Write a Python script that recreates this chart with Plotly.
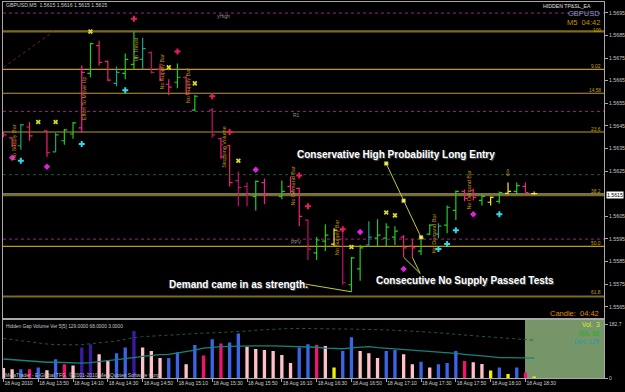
import plotly.graph_objects as go

W, H = 625, 392
def px(x): return x / W
def py(y): return 1 - y / H

# ---------------- data ----------------
bar_idx = list(range(62))
tick_idx = [0, 4, 8, 12, 16, 20, 24, 28, 32, 36, 40, 44, 48, 52, 56, 60]
tick_text = ["18 Aug 2010", "18 Aug 13:50", "18 Aug 14:10", "18 Aug 14:30", "18 Aug 14:50",
             "18 Aug 15:10", "18 Aug 15:30", "18 Aug 15:50", "18 Aug 16:10", "18 Aug 16:30",
             "18 Aug 16:50", "18 Aug 17:10", "18 Aug 17:30", "18 Aug 17:50", "18 Aug 18:10",
             "18 Aug 18:30"]

highs = [1.56423,1.56397,1.56458,1.56467,None,1.56428,1.56419,1.56436,1.56467,1.56717,
         1.56818,1.56827,1.56739,1.56713,1.56770,1.56867,1.56840,1.56779,1.56726,1.56656,
         1.56726,1.56669,1.56586,None,1.56529,1.56397,1.56366,1.56248,1.56199,1.56208,
         1.56217,None,1.56208,1.56226,1.56177,1.56037,1.55958,1.56015,1.55997,1.55997,
         1.55870,1.55923,1.56028,1.56037,1.56019,1.56006,1.55967,1.55949,1.55962,1.56015,
         1.56019,1.56098,1.56164,1.56169,1.56173,1.56147,1.56138,1.56160,1.56199,1.56199,
         1.56199,1.56160]
lows = [1.56401,1.56357,1.56344,1.56384,None,1.56313,1.56335,1.56366,1.56393,1.56419,
        1.56665,1.56717,1.56647,1.56625,1.56656,1.56700,1.56700,1.56682,1.56647,1.56586,
        1.56616,1.56586,1.56515,None,1.56397,1.56305,1.56182,1.56094,1.56094,1.56076,
        1.56103,None,1.56125,1.56151,1.56006,1.55857,1.55857,1.55896,1.55918,1.55747,
        1.55716,1.55765,1.55914,1.55914,1.55914,1.55923,1.55870,1.55870,1.55879,1.55967,
        1.55953,1.55975,1.56033,1.56116,1.56120,1.56098,1.56098,1.56107,1.56147,1.56147,
        1.56155,1.56145]
opens = [1.56419,1.56397,1.56362,1.56445,None,1.56428,1.56335,1.56384,1.56414,1.56441,
         1.56682,1.56805,1.56735,1.56638,1.56682,1.56722,1.56744,1.56774,1.56700,1.56634,
         1.56643,1.56665,1.56520,None,1.56520,1.56393,1.56362,1.56208,1.56182,1.56138,
         1.56199,None,1.56138,1.56182,1.56173,1.56033,1.55888,1.55940,1.55927,1.55989,
         1.55747,1.55817,1.55923,1.55953,1.55953,1.55958,1.55958,1.55918,1.55896,1.55971,
         1.55971,1.56011,1.56076,1.56160,1.56164,1.56120,1.56112,1.56116,1.56151,1.56160,
         1.56182,1.56150]
closes = [1.56410,1.56362,1.56454,1.56406,None,1.56331,1.56410,1.56432,1.56463,1.56687,
          1.56814,1.56731,1.56652,1.56687,1.56744,1.56752,1.56792,1.56687,1.56652,1.56621,
          1.56665,1.56590,1.56581,None,1.56410,1.56313,1.56199,1.56177,1.56142,1.56204,
          1.56142,None,1.56160,1.56160,1.56050,1.55905,1.55945,1.55967,1.55989,1.55756,
          1.55866,1.55910,1.55958,1.55967,1.56002,1.55984,1.55910,1.55910,1.55953,1.56011,
          1.56006,1.56090,1.56160,1.56129,1.56134,1.56138,1.56134,1.56155,1.56160,1.56186,
          1.56155,1.56150]
bar_colors = ["pink","pink","teal","pink",None,"pink","teal","green","green","magenta",
              "green","pink","pink","teal","green","green","teal","dark","pink","pink",
              "green","pink","green",None,"dark","pink","pink","dark","dark","green",
              "pink",None,"green","pink","pink","dark","green","green","yellow","dark",
              "green","green","teal","green","green","green","pink","pink","green","green",
              "teal","green","green","pink","pink","green","yellow","green","yellow","green",
              "pink","yellow"]

volumes = [34,30,30,30,36,27,64,47,43,104,115,81,62,85,104,160,104,92,68,68,
           88,47,113,77,132,118,121,152,107,99,96,92,79,51,104,115,113,109,36,92,
           139,92,85,68,92,96,81,47,56,36,47,51,92,58,54,48,26,36,14,36,19,3]
vol_colors = ["lp","lp","blue","mag","blue","lp","blue","mag","lp","ind",
              "ind","lp","lp","blue","blue","ind","lp","lp","lp","blue",
              "blue","lp","blue","mag","blue","mag","blue","blue","lp","lp",
              "lp","lp","lp","lp","blue","blue","mag","lp","yel","blue",
              "blue","lp","lp","lp","blue","blue","lp","lp","blue","lp",
              "blue","blue","blue","mag","lp","lp","yel","blue","yel","blue","mag","yel"]
vol_ma = [65,63,61,58,55,54,54,53,52,51,53,56,59,62,66,70,74,78,80,81,
          85,89,95,102,105,107,108,109,110,110,110,110,109,109,108,108,105,102,100,100,
          103,106,107,104,102,100,98,96,93,90,88,86,84,81,79,76,73,70,69,68,68,68]
vol_dev = [135,131,127,123,119,116,114,113,113,114,117,119,121,126,132,138,141,143,145,146,
           148,150,152,153,154,155,156,157,160,163,165,167,168,169,169,169,168,168,167,167,
           167,166,166,165,164,163,162,160,158,156,155,152,149,146,144,142,140,138,136,134,131,129]

price_ticks = [1.5565,1.5575,1.5585,1.5595,1.5605,1.5625,1.5635,1.5645,1.5655,1.5665,1.5675,1.5685,1.5695]
price_tick_text = ["1.5565","1.5575","1.5585","1.5595","1.5605","1.5625","1.5635","1.5645",
                   "1.5655","1.5665","1.5675","1.5685","1.5695"]
bid_price = 1.5615

fib_levels = [1.56868, 1.56700, 1.56594, 1.56423, 1.56144, 1.55917, 1.55695]
fib_labels = ["100", "9.02", "14.58", "23.6", "38.2", "50.0", "61.8"]
fib_thick = [True, False, False, False, True, False, True]
pivot_levels = [1.56949, 1.56514, 1.55949]
pivot_labels = ["yHigh", "R1", "PPV"]
s_level = 1.56234

trend_x = [0, 5.75]
trend_y = [1.56709, 1.56867]

cross_x = [15,20,24,26,34,35,39]
cross_y = [1.56924,1.56779,1.56581,1.56423,1.56230,1.56094,1.55993]
xmark_x = [4,6,10,19,22,27,40,44,45]
xmark_y = [1.56467,1.56467,1.56867,1.56709,1.56638,1.56296,1.55914,1.56067,1.56054]
cyan_x = [2,9,14,50,51,52,57]
cyan_y = [1.56296,1.56370,1.56608,1.55905,1.55927,1.55988,1.56059]
mag_x = [1,5,29,41,46,54]
mag_y = [1.56309,1.56269,1.56256,1.55980,1.55817,1.56059]
arrow_x = [58]
arrow_y = [1.56239]

cons_x = [44, 46, 48]
cons_y = [1.56283, 1.56119, 1.55957]
nosup_x = [46, 47.9, 47]
nosup_y = [1.55869, 1.55797, 1.55869]
demand_x = [34.7, 40]
demand_y = [1.55750, 1.55716]

vsa_labels = ["No Supply Bar", "Effort To Move Up", "Up Thrust", "No Supply Bar", "No Supply Bar",
              "Stopping Volume", "No Demand Bar", "No Supply Bar", "No Demand Bar", "No Demand Bar"]
vsa_pos = [(14,143),(84,99),(136,50),(162,72),(188,86),(224,148),(293,187),(337,239),(434,235),(469,191)]

# ---------------- figure ----------------
fig = go.Figure()
bar_col = {"green":"#22cc22","teal":"#1ca582","pink":"#f2207a","magenta":"#ff1aa0",
           "dark":"#c0126a","yellow":"#f4f01e"}
for cname, col in bar_col.items():
    sel = [bar_colors[i] == cname for i in bar_idx]
    fig.add_trace(go.Ohlc(
        x=bar_idx,
        open=[opens[i] if sel[i] else None for i in bar_idx],
        high=[highs[i] if sel[i] else None for i in bar_idx],
        low=[lows[i] if sel[i] else None for i in bar_idx],
        close=[closes[i] if sel[i] else None for i in bar_idx],
        increasing=dict(line=dict(color=col, width=1.2)),
        decreasing=dict(line=dict(color=col, width=1.2)),
        tickwidth=0.35, hoverinfo="skip", xaxis="x", yaxis="y"))

fig.add_trace(go.Scatter(x=trend_x, y=trend_y, mode="lines",
                         line=dict(color="#6a1a40", width=1, dash="dot"), xaxis="x", yaxis="y"))
ann_line = "#c8c840"
fig.add_trace(go.Scatter(x=cons_x, y=cons_y, mode="lines+markers",
                         line=dict(color=ann_line, width=1),
                         marker=dict(symbol="square", size=4, color="#f0f060",
                                     line=dict(color="#606020", width=0.5)), xaxis="x", yaxis="y"))
fig.add_trace(go.Scatter(x=nosup_x, y=nosup_y, mode="lines",
                         line=dict(color=ann_line, width=1), xaxis="x", yaxis="y"))
fig.add_trace(go.Scatter(x=demand_x, y=demand_y, mode="lines",
                         line=dict(color=ann_line, width=1), xaxis="x", yaxis="y"))

fig.add_trace(go.Scatter(x=cross_x, y=cross_y, mode="markers",
                         marker=dict(symbol="cross", size=5, color="#e8205a"), xaxis="x", yaxis="y"))
fig.add_trace(go.Scatter(x=xmark_x, y=xmark_y, mode="markers",
                         marker=dict(symbol="x", size=4.5, color="#d8d820"), xaxis="x", yaxis="y"))
fig.add_trace(go.Scatter(x=cyan_x, y=cyan_y, mode="markers",
                         marker=dict(symbol="cross", size=5, color="#30d8e8"), xaxis="x", yaxis="y"))
fig.add_trace(go.Scatter(x=mag_x, y=mag_y, mode="markers",
                         marker=dict(symbol="diamond", size=5, color="#e020e0"), xaxis="x", yaxis="y"))
fig.add_trace(go.Scatter(x=arrow_x, y=arrow_y, mode="text", text=["⇩"],
                         textfont=dict(size=9, color="#b0a030"), xaxis="x", yaxis="y"))

vol_col = {"lp":"#ffc0c8","blue":"#3c64e6","mag":"#f0146e","ind":"#3a1aa0","yel":"#f0f000"}
fig.add_trace(go.Bar(x=bar_idx, y=volumes, marker_color=[vol_col[c] for c in vol_colors],
                     marker_line_width=0, width=0.38, xaxis="x2", yaxis="y2"))
fig.add_trace(go.Scatter(x=bar_idx, y=vol_ma, mode="lines",
                         line=dict(color="#14847a", width=1.3), xaxis="x2", yaxis="y2"))
fig.add_trace(go.Scatter(x=bar_idx, y=vol_dev, mode="lines",
                         line=dict(color="#1f5a38", width=1, dash="dot"), xaxis="x2", yaxis="y2"))

# shapes
shapes = []
for lvl, thick in zip(fib_levels, fib_thick):
    shapes.append(dict(type="line", xref="x domain", x0=0, x1=1, yref="y", y0=lvl, y1=lvl,
                       line=dict(color="#7d6a22" if thick else "#c09a10", width=2.2 if thick else 1.1),
                       layer="below"))
shapes.append(dict(type="line", xref="x domain", x0=0, x1=1, yref="y", y0=bid_price, y1=bid_price,
                   line=dict(color="#8a8a80", width=1), layer="below"))
for lvl in pivot_levels:
    shapes.append(dict(type="line", xref="x domain", x0=0, x1=1, yref="y", y0=lvl, y1=lvl,
                       line=dict(color="#a0208a", width=1, dash="dot"), layer="below"))
shapes.append(dict(type="line", xref="x domain", x0=0, x1=1, yref="y", y0=s_level, y1=s_level,
                   line=dict(color="#1e5a3c", width=1, dash="dot"), layer="below"))
shapes.append(dict(type="rect", xref="paper", yref="paper", x0=px(525), x1=px(604),
                   y0=py(381), y1=py(322), fillcolor="#76966a", line=dict(width=0), layer="below"))

ann = []
small = "Liberation Sans"
def txt(x, y, s, color, size, xanchor="left", angle=0, bold=False, shadow=None, bg=None):
    d = dict(x=px(x), y=py(y), xref="paper", yref="paper", text=("<b>%s</b>" % s) if bold else s,
             showarrow=False, xanchor=xanchor, yanchor="middle", textangle=angle,
             font=dict(family=small, size=size, color=color))
    if shadow:
        d["font"]["shadow"] = shadow
    if bg:
        d["bgcolor"] = bg
        d["borderpad"] = 0
    ann.append(d)

txt(4, 5.5, "GBPUSD,M5  1.5615 1.5616 1.5615 1.5615", "#d0d0d0", 5.2)
txt(593, 6, "HIDDEN TP&SL_EA", "#e0e0e0", 5.2, xanchor="right")
txt(602, 14, "GBPUSD", "#8a9ac0", 7.5, xanchor="right")
txt(602, 22.5, "M5  04:42", "#c8900a", 7.5, xanchor="right")
txt(601, 316, "Candle:  04:42", "#e08a10", 7.5, xanchor="right")

for lvl, lab in zip(fib_labels, [30.5, 67, 91, 130, 193, 245, 295]):
    txt(603, lab, lvl, "#c8a010", 4.8, xanchor="right")
txt(223, 16.5, pivot_labels[0], "#909090", 5, xanchor="center")
txt(296, 116, pivot_labels[1], "#909090", 5, xanchor="center")
txt(296, 244, pivot_labels[2], "#909090", 5, xanchor="center")

for lab, (x, y) in zip(vsa_labels, vsa_pos):
    txt(x, y, lab, "#c8901e", 5.5, xanchor="center", angle=-90)

sh = "1px 1px 1px #505050"
txt(295, 155.5, "Conservative High Probability Long Entry", "#ffffff", 10, bold=True, shadow=sh)
txt(374, 282.5, "Consecutive No Supply Passed Tests", "#ffffff", 10, bold=True, shadow=sh)
txt(167, 287, "Demand came in as strength.", "#ffffff", 10, bold=True, shadow=sh)

txt(4, 329, "Hidden Gap Volume Ver 5[5] 129.0000 68.0000 3.0000", "#c8c8c8", 4.8)
txt(3, 378, "MetaTrader - E-Global TFG, © 2001-2010 MetaQuotes Software Corp.", "#c0c0c0", 5)
txt(602, 327.5, "Vol.  3", "#d8f030", 6.4, xanchor="right")
txt(602, 335.7, "MA. 68", "#20b020", 6.4, xanchor="right")
txt(602, 343.9, "Dev. 129", "#2898a8", 6.4, xanchor="right")

txt(606, 196, "1.5615", "#000000", 5.2, bg="#ffffff")

axis_line = "#a8a8a8"
xr = [-0.05, 69.03]
fig.update_layout(
    width=W, height=H, margin=dict(l=0, r=0, t=0, b=0),
    paper_bgcolor="black", plot_bgcolor="black", showlegend=False,
    shapes=shapes, annotations=ann,
    xaxis=dict(domain=[px(3), px(604)], range=xr, anchor="y", showgrid=False, zeroline=False,
               showticklabels=False, ticks="", showline=True, mirror=True, linecolor=axis_line,
               linewidth=1, rangeslider=dict(visible=False), fixedrange=True),
    yaxis=dict(domain=[py(320), py(2)], range=[1.55602, 1.56998], anchor="x", side="right",
               showgrid=False, zeroline=False, tickvals=price_ticks, ticktext=price_tick_text,
               ticks="outside", ticklen=3, tickcolor=axis_line,
               tickfont=dict(family=small, size=5.2, color="#c8c8c8"),
               showline=True, mirror=True, linecolor=axis_line, linewidth=1),
    xaxis2=dict(domain=[px(3), px(604)], range=xr, anchor="y2", showgrid=False, zeroline=False,
                tickvals=tick_idx, ticktext=tick_text, ticklabelposition="outside right",
                tickangle=0, ticks="outside", ticklen=3, tickcolor=axis_line,
                tickfont=dict(family=small, size=5, color="#d0d0d0"),
                showline=True, mirror=True, linecolor=axis_line, linewidth=1),
    yaxis2=dict(domain=[py(381), py(322)], range=[0, 199.4], anchor="x2", side="right",
                showgrid=False, zeroline=False, tickvals=[0, 182.7], ticktext=["0", "182.7"],
                ticks="outside", ticklen=3, tickcolor=axis_line,
                tickfont=dict(family=small, size=5, color="#c8c8c8"),
                showline=True, mirror=True, linecolor=axis_line, linewidth=1),
)

fig.write_html("out.html")
